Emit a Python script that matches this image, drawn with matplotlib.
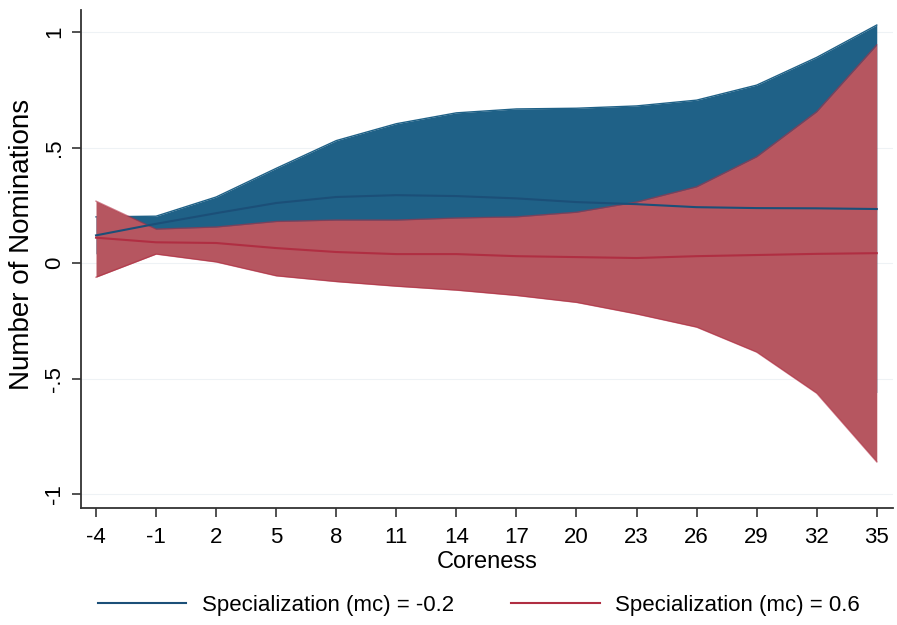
import numpy as np
import matplotlib
matplotlib.use("Agg")
from matplotlib import pyplot as plt

plt.rcParams['font.family'] = ['Liberation Sans', 'DejaVu Sans']
plt.rcParams['axes.unicode_minus'] = False

# coreness values where margins were evaluated
coreness = [-4, -1, 2, 5, 8, 11, 14, 17, 20, 23, 26, 29, 32, 35]

# specialization (mc) = -0.2
low_fit = [0.12, 0.17, 0.216, 0.26, 0.286, 0.294, 0.29, 0.28, 0.264, 0.255, 0.242, 0.238, 0.237, 0.234]
low_hi = [0.20, 0.203, 0.286, 0.41, 0.53, 0.603, 0.65, 0.667, 0.67, 0.68, 0.705, 0.77, 0.89, 1.03]
low_lo = [0.04, 0.14, 0.15, 0.11, 0.03, -0.02, -0.07, -0.11, -0.14, -0.17, -0.22, -0.29, -0.42, -0.56]

# specialization (mc) = 0.6
high_fit = [0.11, 0.09, 0.087, 0.065, 0.048, 0.039, 0.039, 0.03, 0.026, 0.022, 0.03, 0.035, 0.04, 0.043]
high_hi = [0.268, 0.147, 0.156, 0.18, 0.186, 0.186, 0.195, 0.20, 0.22, 0.264, 0.33, 0.46, 0.655, 0.944]
high_lo = [-0.061, 0.039, 0.005, -0.055, -0.08, -0.10, -0.117, -0.14, -0.17, -0.22, -0.277, -0.385, -0.563, -0.86]

labels = ['Specialization (mc) = -0.2', 'Specialization (mc) = 0.6']

blue_fill = '#1f6187'
red_fill = '#b65660'
blue_line = '#1b4f78'
red_line = '#b02e42'

fig = plt.figure(figsize=(8.97, 6.25), dpi=100)
ax = fig.add_axes([0.0903, 0.187, 0.905, 0.797])

for yv in [-1, -0.5, 0, 0.5, 1]:
    ax.axhline(yv, color='#eef2f5', linewidth=0.8, zorder=0)

ax.fill_between(coreness, low_lo, low_hi, color=blue_fill, linewidth=0, zorder=1)
ax.fill_between(coreness, high_lo, high_hi, color=red_fill, linewidth=0, zorder=2)
ax.plot(coreness, low_hi, color=blue_fill, linewidth=1.0, zorder=1.5)
ax.plot(coreness, high_hi, color=red_line, linewidth=1.0, alpha=0.6, zorder=2.5)
ax.plot(coreness, high_lo, color=red_line, linewidth=1.0, alpha=0.6, zorder=2.5)
l1, = ax.plot(coreness, low_fit, color=blue_line, linewidth=1.5, zorder=3, label=labels[0])
l2, = ax.plot(coreness, high_fit, color=red_line, linewidth=1.5, zorder=3, label=labels[1])

ax.set_xlim(-4.75, 35.8)
ax.set_ylim(-1.06, 1.095)
ax.set_xticks(coreness)
ax.set_yticks([-1, -0.5, 0, 0.5, 1])
ax.set_yticklabels(['-1', '-.5', '0', '.5', '1'], rotation=90, va='center')
ax.tick_params(axis='both', labelsize=16, length=6.5, width=1.2, color='#333333', direction='out')
ax.tick_params(axis='x', pad=7)
ax.tick_params(axis='y', pad=5)

for s in ['top', 'right']:
    ax.spines[s].set_visible(False)
for s in ['left', 'bottom']:
    ax.spines[s].set_color('#333333')
    ax.spines[s].set_linewidth(1.3)

ax.set_xlabel('Coreness', fontsize=17, labelpad=2)
ax.set_ylabel('Number of Nominations', fontsize=20)
ax.yaxis.set_label_coords(-0.057, 0.53)

fig.legend(handles=[l1, l2], labels=labels, loc='lower center', bbox_to_anchor=(0.5335, -0.018),
           ncol=2, frameon=False, fontsize=16, handlelength=4.0, handletextpad=0.68, columnspacing=2.57)

fig.savefig('out.png', dpi=100)
